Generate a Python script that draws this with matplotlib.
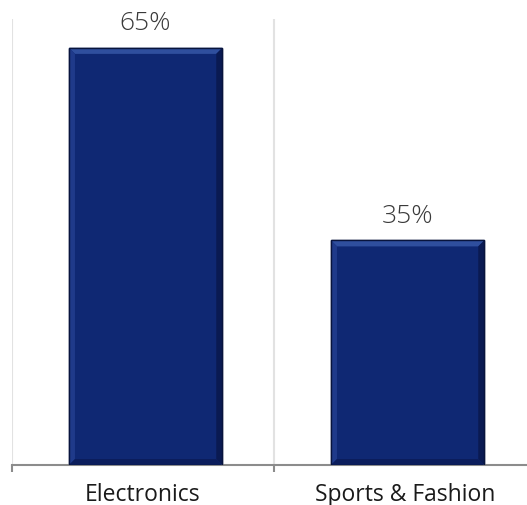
import numpy as np
import matplotlib.pyplot as plt
from matplotlib.patches import Polygon

categories = ['Electronics', 'Sports & Fashion']
shares = [65, 35]

plt.rcParams['font.family'] = ['Open Sans', 'DejaVu Sans']

fig = plt.figure(figsize=(5.27, 5.06), dpi=100)
ax = fig.add_axes([12 / 527, 40 / 506, 524 / 527, 446 / 506])

x = np.arange(len(categories))
bars = ax.bar(x + 0.01, shares, width=0.585, color='#0f2873', edgecolor='#08143d',
              linewidth=1.0, zorder=2)

ax.set_xlim(-0.5, len(categories) - 0.5)
ax.set_ylim(0, 69.5)

# bevel strips around each bar, width given in pixels
inv = ax.transData.inverted()


def to_data(px, py):
    return inv.transform((px, py))


for bar in bars:
    x0, y0 = bar.get_x(), bar.get_y()
    x1, y1 = x0 + bar.get_width(), y0 + bar.get_height()
    p0 = ax.transData.transform((x0, y0))
    p1 = ax.transData.transform((x1, y1))
    b = 6
    strips = [
        ([(p0[0], p1[1]), (p1[0], p1[1]), (p1[0] - b, p1[1] - b), (p0[0] + b, p1[1] - b)], '#2f4f9e'),
        ([(p0[0], p0[1]), (p0[0], p1[1]), (p0[0] + b, p1[1] - b), (p0[0] + b, p0[1] + b)], '#1f3a8a'),
        ([(p1[0], p0[1]), (p1[0], p1[1]), (p1[0] - b, p1[1] - b), (p1[0] - b, p0[1] + b)], '#0a1a52'),
        ([(p0[0], p0[1]), (p1[0], p0[1]), (p1[0] - b, p0[1] + b), (p0[0] + b, p0[1] + b)], '#0b1d5c'),
    ]
    for pts, col in strips:
        ax.add_patch(Polygon([to_data(*p) for p in pts], closed=True,
                             facecolor=col, edgecolor='none', zorder=3))
    ax.add_patch(plt.Rectangle((x0, y0), x1 - x0, y1 - y0, fill=False,
                               edgecolor='#08143d', linewidth=1.0, zorder=4))
    ax.text(bar.get_x() + bar.get_width() / 2, bar.get_height() + 2.0,
            '{:d}%'.format(int(bar.get_height())), ha='center', va='bottom',
            fontsize=19, color='#3a3a3a', fontweight='light')

ax.axvline(0.5, color='#e2e2e2', linewidth=1.5, zorder=1)
ax.axvline(-0.5, color='#e2e2e2', linewidth=1.5, zorder=1)

for side in ['top', 'right', 'left']:
    ax.spines[side].set_visible(False)
ax.spines['bottom'].set_color('#8c8c8c')
ax.spines['bottom'].set_linewidth(1.5)

ax.set_xticks([-0.5, 0.5, 1.5])
ax.set_xticklabels([])
ax.set_xticks(x, minor=True)
ax.set_xticklabels(categories, minor=True, fontsize=16.5, color='#1a1a1a')
ax.tick_params(axis='x', which='major', length=5, color='#8c8c8c', width=1.5)
ax.tick_params(axis='x', which='minor', length=0, pad=12)
ax.set_yticks([])

fig.savefig('out.png', dpi=100)
